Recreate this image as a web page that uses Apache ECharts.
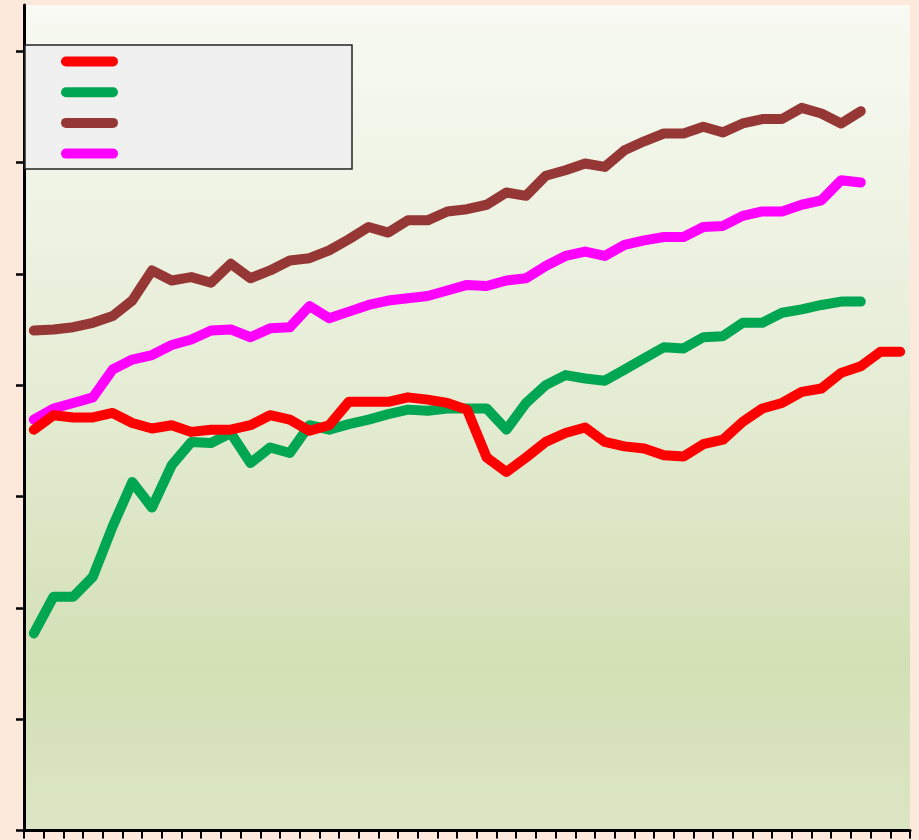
<!DOCTYPE html>
<html>
<head>
<meta charset="utf-8">
<script src="https://cdn.jsdelivr.net/npm/echarts@6/dist/echarts.min.js"></script>
<style>
  html, body { margin: 0; padding: 0; background: #fce9dc; }
  #chart { width: 919px; height: 840px; }
</style>
</head>
<body>
<div id="chart"></div>
<script>
// 45 categories (unlabelled in the original)
const categories = Array.from({ length: 45 }, (_, i) => String(i + 1));
const yTickValues = [0, 1, 2, 3, 4, 5, 6, 7];

const seriesNames = ['Series 1', 'Series 2', 'Series 3', 'Series 4'];
const seriesColors = ['#ff0000', '#00a651', '#953735', '#ff00ff'];

const redValues = [3.60, 3.73, 3.71, 3.71, 3.75, 3.66, 3.61, 3.64, 3.58, 3.60,
  3.60, 3.64, 3.73, 3.69, 3.59, 3.64, 3.85, 3.85, 3.85, 3.89,
  3.87, 3.84, 3.78, 3.35, 3.22, 3.35, 3.49, 3.57, 3.62, 3.49,
  3.45, 3.43, 3.37, 3.36, 3.47, 3.51, 3.67, 3.79, 3.84, 3.94,
  3.97, 4.11, 4.17, 4.30, 4.30];

const greenValues = [1.77, 2.10, 2.10, 2.28, 2.73, 3.13, 2.90, 3.28, 3.49, 3.48,
  3.57, 3.30, 3.44, 3.39, 3.64, 3.60, 3.65, 3.69, 3.74, 3.78,
  3.77, 3.79, 3.79, 3.79, 3.60, 3.84, 4.00, 4.09, 4.06, 4.04,
  4.14, 4.24, 4.34, 4.33, 4.43, 4.44, 4.56, 4.56, 4.65, 4.68,
  4.72, 4.75, 4.75];

const brownValues = [4.49, 4.50, 4.52, 4.56, 4.62, 4.76, 5.03, 4.94, 4.97, 4.92,
  5.09, 4.96, 5.03, 5.12, 5.14, 5.21, 5.31, 5.42, 5.37, 5.48,
  5.48, 5.56, 5.58, 5.62, 5.73, 5.70, 5.88, 5.93, 5.99, 5.96,
  6.11, 6.19, 6.26, 6.26, 6.32, 6.27, 6.35, 6.39, 6.39, 6.49,
  6.44, 6.35, 6.46];

const magentaValues = [3.69, 3.79, 3.84, 3.89, 4.14, 4.23, 4.27, 4.36, 4.41, 4.49,
  4.50, 4.43, 4.51, 4.52, 4.71, 4.60, 4.66, 4.72, 4.76, 4.78,
  4.80, 4.85, 4.90, 4.89, 4.94, 4.96, 5.07, 5.16, 5.20, 5.16,
  5.26, 5.30, 5.33, 5.33, 5.42, 5.43, 5.52, 5.56, 5.56, 5.62,
  5.66, 5.84, 5.82];

const allValues = [redValues, greenValues, brownValues, magentaValues];

const chart = echarts.init(document.getElementById('chart'), null, { renderer: 'canvas' });

const capsule = 'path://M5,0H52A5,5,0,0,1,52,10H5A5,5,0,0,1,5,0Z';

const option = {
  backgroundColor: '#fce9dc',
  animation: false,
  grid: {
    left: 24,
    right: 9,
    top: 5,
    bottom: 9.5,
    show: true,
    borderWidth: 0,
    backgroundColor: {
      type: 'linear', x: 0, y: 0, x2: 0, y2: 1,
      colorStops: [
        { offset: 0, color: '#f8faf3' },
        { offset: 0.45, color: '#e6edd6' },
        { offset: 0.8, color: '#d3e0b5' },
        { offset: 1, color: '#dbe5c4' }
      ]
    }
  },
  legend: {
    orient: 'vertical',
    left: 25,
    top: 45,
    icon: capsule,
    itemWidth: 57,
    itemHeight: 10,
    itemGap: 20.7,
    padding: [11.5, 229, 10.5, 36],
    backgroundColor: '#f0f0f0',
    borderColor: '#222',
    borderWidth: 1.5,
    formatter: () => '',
    textStyle: { fontSize: 1, lineHeight: 1 },
    data: seriesNames
  },
  xAxis: {
    type: 'category',
    data: categories,
    boundaryGap: true,
    axisLine: { show: true, lineStyle: { color: '#000', width: 3 } },
    axisTick: { show: true, interval: 0, length: 8, lineStyle: { color: '#000', width: 2 } },
    axisLabel: { show: false },
    splitLine: { show: false }
  },
  yAxis: {
    type: 'value',
    min: 0,
    max: 7.414,
    axisLine: { show: true, lineStyle: { color: '#000', width: 3 } },
    axisTick: { show: true, length: 8, customValues: yTickValues, lineStyle: { color: '#000', width: 2.5 } },
    axisLabel: { show: false },
    splitLine: { show: false }
  },
  series: seriesNames.map((name, i) => ({
    name: name,
    type: 'line',
    data: allValues[i],
    symbol: 'none',
    color: seriesColors[i],
    itemStyle: { color: seriesColors[i] },
    lineStyle: { color: seriesColors[i], width: 10, cap: 'round', join: 'round' },
    z: 10 - i
  }))
};

chart.setOption(option);
</script>
</body>
</html>
